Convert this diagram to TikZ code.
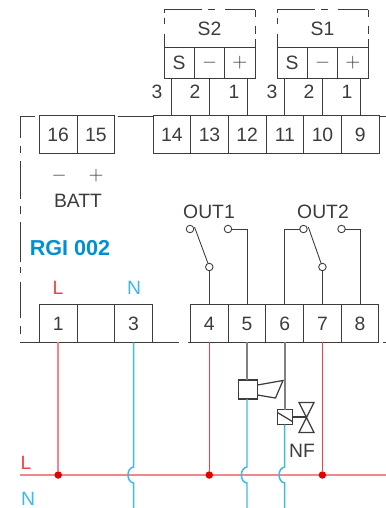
\documentclass[tikz,border=0pt]{standalone}
\usepackage{fontspec}
\setmainfont{Liberation Sans}
\usepackage{xcolor}
\usetikzlibrary{positioning,calc}
\definecolor{inkgray}{HTML}{3C3C3C}
\definecolor{wirered}{HTML}{F0404E}
\definecolor{buspink}{HTML}{F4858C}
\definecolor{wireblue}{HTML}{3DB8EA}
\definecolor{brandblue}{HTML}{0090D2}
\tikzset{
    terminal/.style={draw=inkgray, line width=0.5pt, minimum width=0.7533cm, minimum height=0.75cm, inner sep=0pt, outer sep=0pt, text=inkgray, font=\fontsize{11}{11}\selectfont},
    sensorpin/.style={terminal, minimum width=0.607cm, minimum height=0.62cm},
    wirelabel/.style={inner sep=0pt, text=inkgray, font=\fontsize{11}{11}\selectfont},
    contact/.style={draw=inkgray, fill=white, circle, line width=0.5pt, minimum size=0.15cm, inner sep=0pt, outer sep=0pt},
    wire/.style={draw=inkgray, line width=0.5pt},
    redwire/.style={draw=wirered, line width=0.8pt},
    bluewire/.style={draw=wireblue, line width=0.85pt},
    graywire/.style={draw=gray, line width=1pt},
    symbol/.style={draw=inkgray, line width=0.7pt},
    junction/.style={fill=red!90!black, circle, minimum size=0.15cm, inner sep=0pt, outer sep=0pt}
}
\begin{document}
\begin{tikzpicture}[x=0.02cm, y=-0.02cm]
    \useasboundingbox (0,0) rectangle (386,508);

    % Device outline
    \foreach \from/\to in {116/138, 146/153, 161/199, 206/214, 222/262, 267/273, 282/318, 326/334}
        \draw [wire] (20,\from) -- (20,\to);
    \draw [wire] (20,116) -- (35,116);
    \draw [wire] (118,116) -- (153,116);
    \draw [wire] (379,116) -- (386,116);
    \draw [wire] (20,342) -- (179,342);
    \draw [wire] (188,342) -- (191,342);
    \draw [wire] (383,342) -- (386,342);

    % Upper terminals
    \foreach \num/\xpos in {16/58.2, 15/95.8, 14/171.8, 13/209.5, 12/247.2, 11/284.8, 10/322.5, 9/360.2}
        \node [terminal] (t\num) at (\xpos,134.5) {\num};

    % Lower terminals
    \foreach \num/\txt/\xpos in {1/1/58.2, 2//95.9, 3/3/133.6, 4/4/209.3, 5/5/247, 6/6/284.7, 7/7/322.4, 8/8/360.1}
        \node [terminal] (t\num) at (\xpos,323.5) {\txt};

    % Sensors
    \foreach \sensor/\xpos/\xl/\xr in {S2/209.5/164/255, S1/322.5/277/368} {
        \node [sensorpin] (\sensor m) at (\xpos,62.5) {$-$};
        \node [sensorpin, left=0pt of \sensor m] (\sensor s) {S};
        \node [sensorpin, right=0pt of \sensor m] (\sensor p) {$+$};
        \node [wirelabel] (\sensor name) at (\xpos,29) {\sensor};
        \draw [wire] (\xl,9.5) -- ++(38,0) (\xl,9.5) ++(44,0) -- ++(7,0) (\xl,9.5) ++(61,0) -- (\xr,9.5);
        \draw [wire] (\xl,9.5) -- (\xl,12.5) (\xl,17.5) -- (\xl,24) (\xl,34) -- (\xl,47);
        \draw [wire] (\xr,9.5) -- (\xr,17) (\xr,25.7) -- (\xr,34) (\xr,39) -- (\xr,47);
    }

    % Sensor wires
    \foreach \from/\to in {S2s/14, S2m/13, S2p/12, S1s/11, S1m/10, S1p/9}
        \draw [wire] (t\to.north) -- (t\to.north |- \from.south);
    \foreach \num/\xpos in {3/157, 2/195, 1/234, 3/272, 2/309, 1/347}
        \node [wirelabel] at (\xpos,92) {\num};

    % Battery
    \node [wirelabel] (minus) at (59,176) {$-$};
    \node [wirelabel] (plus) at (96,176) {$+$};
    \node [wirelabel] (batt) at (78,201) {BATT};
    \node [inner sep=0pt, text=brandblue, font=\fontsize{12.3}{12.3}\selectfont\bfseries] (model) at (70,248) {RGI 002};

    % Supply labels
    \node [inner sep=0pt, text=wirered, font=\fontsize{11}{11}\selectfont] (topL) at (58,288) {L};
    \node [inner sep=0pt, text=wireblue, font=\fontsize{11}{11}\selectfont] (topN) at (134,288) {N};
    \node [inner sep=0pt, text=wirered, font=\fontsize{11}{11}\selectfont] (busL) at (26,463) {L};
    \node [inner sep=0pt, text=wireblue, font=\fontsize{11}{11}\selectfont] (busN) at (28,498.5) {N};

    % Relay contacts
    \node [wirelabel] (out1) at (209,212) {OUT1};
    \node [wirelabel] (out2) at (323,212) {OUT2};
    \node [contact] (c1a) at (190,229) {};
    \node [contact] (c1b) at (228,229) {};
    \node [contact] (c1c) at (t4.north |- 0,267) {};
    \node [contact] (c2a) at (303.5,229) {};
    \node [contact] (c2b) at (341.5,229) {};
    \node [contact] (c2c) at (t7.north |- 0,267) {};
    \coordinate (c1tip) at (194.5,227);
    \coordinate (c2tip) at (308.3,227);
    \draw [wire] (c1c) -- (c1tip);
    \draw [wire] (c2c) -- (c2tip);
    \draw [wire] (c1c) -- (t4.north);
    \draw [wire] (c2c) -- (t7.north);
    \draw [wire] (c1b) -| (t5.north);
    \draw [wire] (c2a) -| (t6.north);
    \draw [wire] (c2b) -| (t8.north);

    % Bus
    \coordinate (busstart) at (20,475);
    \coordinate (busend) at (386,475);
    \draw [draw=buspink, line width=1pt] (busstart) -- (busend);
    \foreach \num in {1, 4, 7}
        \node [junction] (j\num) at (t\num.south |- busstart) {};
    \draw [draw=buspink, line width=0.9pt] (t1.south) -- (j1);
    \draw [redwire] (t4.south) -- (j4);
    \draw [redwire] (t7.south) -- (j7);

    % Horn
    \node [symbol, minimum size=0.38cm, inner sep=0pt, outer sep=0pt] (horn) at (248,389.5) {};
    \draw [graywire] (t5.south) -- (t5.south |- horn.north);
    \draw [symbol] (horn.east |- 0,385) -- (283,380.5) -- (275.5,398) -- (horn.east |- 0,395);

    % Valve
    \node [symbol, minimum size=0.3cm, inner sep=0pt, outer sep=0pt] (coil) at (284.9,417) {};
    \draw [graywire] (t6.south) -- (t6.south |- coil.north);
    \draw [symbol] ($(coil.north west)+(0,3)$) -- ($(coil.south east)+(0,-3)$);
    \coordinate (valve) at (306.5,417);
    \draw [symbol] (coil.east) -- (valve);
    \draw [symbol] (299,402.5) -- (314,402.5) -- (299,432.5) -- (314,432.5) -- cycle;
    \node [inner sep=0pt, text=inkgray, font=\fontsize{11}{11}\selectfont] (nf) at (302,451) {NF};

    % Neutral wires
    \coordinate (n3) at (t3.south);
    \coordinate (n5) at (t5.south |- horn.south);
    \coordinate (n6) at (t6.south |- coil.south);
    \foreach \wire in {n3, n5, n6}
        \draw [bluewire] (\wire) -- (\wire |- 0,467) .. controls ($(\wire |- 0,467)+(-7.5,1)$) and ($(\wire |- 0,483)+(-7.5,-1)$) .. (\wire |- 0,483) -- (\wire |- 0,508);
\end{tikzpicture}
\end{document}
